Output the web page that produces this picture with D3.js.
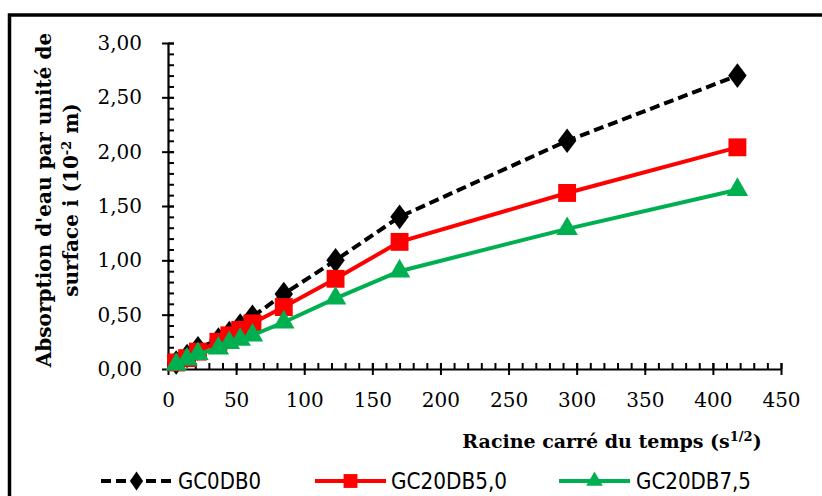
<!DOCTYPE html>
<html>
<head>
<meta charset="utf-8">
<script src="https://cdn.jsdelivr.net/npm/d3@7"></script>
<style>
  body { margin: 0; background: #fff; }
  svg { display: block; }
</style>
</head>
<body>
<svg id="chart" width="822" height="496"></svg>
<script>
// Square root of time (s^1/2) at each measurement
const sqrtTime = [6, 14, 22, 37, 45, 53, 62, 85, 123, 170, 293, 418];
// Cumulative absorption per unit surface (10^-2 m)
const gc0db0   = [0.06, 0.12, 0.19, 0.27, 0.33, 0.40, 0.48, 0.69, 1.00, 1.40, 2.10, 2.70];
const gc20db50 = [0.06, 0.10, 0.16, 0.25, 0.31, 0.36, 0.42, 0.57, 0.83, 1.17, 1.62, 2.04];
const gc20db75 = [0.04, 0.09, 0.14, 0.19, 0.24, 0.27, 0.31, 0.43, 0.65, 0.90, 1.29, 1.65];
const seriesNames = ["GC0DB0", "GC20DB5,0", "GC20DB7,5"];
const xTickValues = [0, 50, 100, 150, 200, 250, 300, 350, 400, 450];
const yTickValues = [0, 0.5, 1, 1.5, 2, 2.5, 3];

const svg = d3.select("#chart");
const x = d3.scaleLinear().domain([0, 450]).range([168, 781]);
const y = d3.scaleLinear().domain([0, 3]).range([369, 43]);

// outer frame
svg.append("rect")
  .attr("x", 9.5).attr("y", 15).attr("width", 900).attr("height", 600)
  .attr("fill", "none").attr("stroke", "#000").attr("stroke-width", 3.5);

const numFont = "'DejaVu Serif', serif";
const titleFont = "'DejaVu Serif', serif";

// minor ticks (inside)
svg.append("g").attr("transform", `translate(0,${y(0)})`)
  .call(d3.axisBottom(x).tickValues(d3.range(0, 451, 10)).tickSize(-6).tickFormat(""))
  .call(g => g.select(".domain").remove())
  .call(g => g.selectAll("line").attr("stroke", "#000").attr("stroke-width", 2));
svg.append("g").attr("transform", `translate(${x(0)},0)`)
  .call(d3.axisLeft(y).tickValues(d3.range(0, 31).map(d => d / 10)).tickSize(-6).tickFormat(""))
  .call(g => g.select(".domain").remove())
  .call(g => g.selectAll("line").attr("stroke", "#000").attr("stroke-width", 2));

// major x axis
const gx = svg.append("g").attr("transform", `translate(0,${y(0)})`)
  .call(d3.axisBottom(x).tickValues(xTickValues).tickSize(6).tickSizeOuter(0).tickPadding(18));
gx.select(".domain").attr("stroke", "#000").attr("stroke-width", 2.2);
gx.selectAll(".tick line").attr("y1", -6).attr("y2", 6).attr("stroke", "#000").attr("stroke-width", 2);
gx.selectAll(".tick text").attr("font-family", numFont).attr("font-size", 20).attr("fill", "#000");

// major y axis
const fmt = d => d3.format(".2f")(d).replace(".", ",");
const gy = svg.append("g").attr("transform", `translate(${x(0)},0)`)
  .call(d3.axisLeft(y).tickValues(yTickValues).tickSize(6).tickSizeOuter(0).tickPadding(20).tickFormat(fmt));
gy.select(".domain").attr("stroke", "#000").attr("stroke-width", 2.2);
gy.selectAll(".tick line").attr("x1", -6).attr("x2", 6).attr("stroke", "#000").attr("stroke-width", 2);
gy.selectAll(".tick text").attr("font-family", numFont).attr("font-size", 20).attr("fill", "#000");

// series
const series = [
  { name: seriesNames[0], values: gc0db0, color: "#000000", dash: "10,5", symbol: d3.symbolDiamond, size: 175 },
  { name: seriesNames[1], values: gc20db50, color: "#FF0000", dash: null, symbol: d3.symbolSquare, size: 320 },
  { name: seriesNames[2], values: gc20db75, color: "#00B050", dash: null, symbol: d3.symbolTriangle, size: 200 }
];

const line = d3.line().x(d => x(d[0])).y(d => y(d[1]));

series.forEach(s => {
  const pts = sqrtTime.map((t, i) => [t, s.values[i]]);
  const g = svg.append("g");
  g.append("path").datum(pts)
    .attr("d", line).attr("fill", "none")
    .attr("stroke", s.color).attr("stroke-width", 4)
    .attr("stroke-dasharray", s.dash);
  g.selectAll("path.pt").data(pts).join("path")
    .attr("class", "pt")
    .attr("transform", d => `translate(${x(d[0])},${y(d[1])})${s.symbol === d3.symbolDiamond ? " scale(1.3,1)" : ""}`)
    .attr("d", d3.symbol(s.symbol, s.size))
    .attr("fill", s.color);
});

// axis titles
const xt = svg.append("text")
  .attr("x", 612).attr("y", 448).attr("text-anchor", "middle")
  .attr("font-family", titleFont).attr("font-weight", "bold").attr("font-size", 19);
xt.append("tspan").text("Racine carré du temps (s");
xt.append("tspan").attr("font-size", 13).attr("dy", -7).text("1/2");
xt.append("tspan").attr("dy", 7).text(")");

const yt = svg.append("g").attr("transform", "translate(51,200) rotate(-90)")
  .attr("font-family", titleFont).attr("font-weight", "bold").attr("font-size", 20);
yt.append("text").attr("text-anchor", "middle").attr("x", 0).attr("y", 0)
  .text("Absorption d'eau par unité de");
const yt2 = yt.append("text").attr("text-anchor", "middle").attr("x", 0).attr("y", 27);
yt2.append("tspan").text("surface  i (10");
yt2.append("tspan").attr("font-size", 13).attr("dy", -7).text("-2");
yt2.append("tspan").attr("dy", 7).text(" m)");

// legend
const legendX = [101, 315, 559];
const legendText = [178, 391, 636];
const legendW = [83, 116, 115];
series.forEach((s, i) => {
  const g = svg.append("g");
  g.append("line")
    .attr("x1", legendX[i]).attr("x2", legendX[i] + 71)
    .attr("y1", 481).attr("y2", 481)
    .attr("stroke", s.color).attr("stroke-width", 4)
    .attr("stroke-dasharray", s.dash);
  g.append("path")
    .attr("transform", `translate(${legendX[i] + 35.5},481)${s.symbol === d3.symbolDiamond ? " scale(1.2,1)" : ""}`)
    .attr("d", d3.symbol(s.symbol, s.size * 0.6))
    .attr("fill", s.color);
  g.append("text")
    .attr("x", legendText[i]).attr("y", 489)
    .attr("font-family", "'Liberation Sans Narrow', 'DejaVu Sans Condensed', sans-serif")
    .attr("font-size", 23)
    .attr("textLength", legendW[i]).attr("lengthAdjust", "spacingAndGlyphs")
    .text(s.name);
});
</script>
</body>
</html>
